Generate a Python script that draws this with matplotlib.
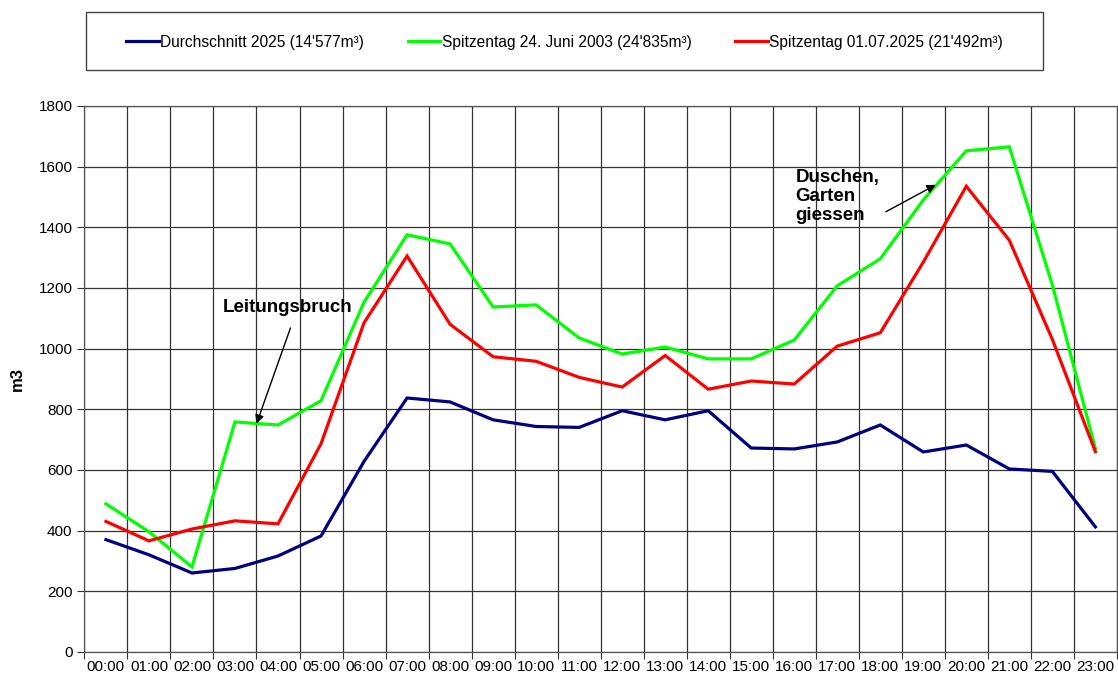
import matplotlib

matplotlib.use("Agg")

import numpy as np
import matplotlib.pyplot as plt
from matplotlib.patches import Rectangle
from matplotlib.ticker import MultipleLocator, FixedLocator

plt.rcParams["font.family"] = ["Liberation Sans", "DejaVu Sans"]

W, H = 1118, 679

hours = [f"{h:02d}:00" for h in range(24)]

durchschnitt_2025 = [370, 320, 260, 275, 316, 382, 628, 837, 824, 765, 743, 740,
                     795, 765, 795, 672, 669, 692, 748, 659, 682, 603, 595, 412]
spitze_2003 = [488, 396, 280, 758, 748, 828, 1153, 1375, 1345, 1137, 1144, 1035,
               982, 1005, 966, 966, 1028, 1207, 1296, 1490, 1652, 1665, 1210, 670]
spitze_2025 = [430, 366, 405, 432, 422, 686, 1085, 1305, 1080, 973, 958, 905,
               873, 977, 866, 893, 883, 1008, 1052, 1285, 1535, 1357, 1030, 660]

labels = [
    "Durchschnitt 2025 (14'577m³)",
    "Spitzentag 24. Juni 2003 (24'835m³)",
    "Spitzentag 01.07.2025 (21'492m³)",
]
colors = ["#000080", "#00ff00", "#ff0000"]

fig = plt.figure(figsize=(W / 100, H / 100), dpi=100)
ax = fig.add_axes([0.0755, 0.040, 0.9235, 0.804])

x = np.arange(len(hours))
for series, label, color in zip([durchschnitt_2025, spitze_2003, spitze_2025], labels, colors):
    ax.plot(x, series, color=color, lw=2.3, label=label, solid_joinstyle="miter")

ax.set_xlim(-0.5, 23.5)
ax.set_ylim(0, 1800)
ax.yaxis.set_major_locator(MultipleLocator(200))

# category axis: ticks between categories, labels centred
ax.xaxis.set_major_locator(FixedLocator(np.arange(-0.5, 24, 1)))
ax.xaxis.set_minor_locator(FixedLocator(x))
ax.set_xticklabels([])
ax.set_xticklabels(hours, minor=True)
ax.tick_params(axis="x", which="minor", length=0, labelsize=11, pad=6)
ax.tick_params(axis="x", which="major", length=5, color="#333333")
ax.tick_params(axis="y", length=5, labelsize=11, color="#333333")

ax.grid(True, which="major", color="#333333", lw=0.9)
for s in ax.spines.values():
    s.set_color("#555555")
    s.set_linewidth(0.9)

ax.set_ylabel("m3", fontsize=12, fontweight="bold", labelpad=10)

# annotations
arrow = dict(arrowstyle="-|>", color="black", lw=1, shrinkA=0, shrinkB=0, mutation_scale=13)
ax.text(4.22, 1121, "Leitungsbruch", fontsize=13.5, fontweight="bold",
        ha="center", va="baseline")
ax.annotate("", xy=(3.5, 752), xytext=(4.29, 1068), arrowprops=arrow)

ax.text(16.03, 1592, "Duschen,\nGarten\ngiessen", fontsize=13.5, fontweight="bold",
        ha="left", va="top", linespacing=1.17)
ax.annotate("", xy=(19.29, 1540), xytext=(18.13, 1451), arrowprops=arrow)

# legend with a hand-placed frame
leg = fig.legend(loc="center", bbox_to_anchor=(564.5 / W, 1 - 42 / H), ncol=3,
                 fontsize=11.2, frameon=False, handlelength=2.1,
                 handletextpad=0.1, columnspacing=2.8)
fig.patches.append(Rectangle((86 / W, 1 - 70 / H), (1043 - 86) / W, 58 / H,
                             transform=fig.transFigure, fill=False,
                             edgecolor="#444444", lw=1.0))

fig.savefig("out.png", dpi=100)
